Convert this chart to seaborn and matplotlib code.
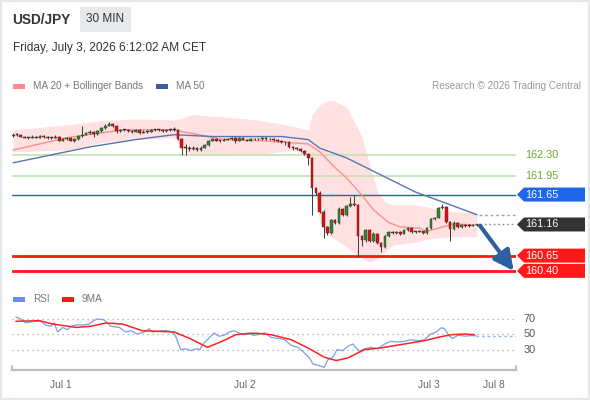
import matplotlib
matplotlib.use("Agg")
import matplotlib.pyplot as plt
from matplotlib.patches import Polygon, Rectangle
import numpy as np
import pandas as pd
import seaborn as sns

# ---------------- data ----------------
# 30 min candles, Jun 30 17:30 -> Jul 3 06:00
first_open = 162.61
closes = [162.63, 162.63, 162.60, 162.58, 162.58, 162.60, 162.58, 162.61, 162.60, 162.58,
          162.58, 162.60, 162.53, 162.56, 162.58, 162.53, 162.56, 162.61, 162.63, 162.66,
          162.68, 162.64, 162.69, 162.74, 162.78, 162.81, 162.78, 162.69, 162.71, 162.71,
          162.69, 162.68, 162.71, 162.66, 162.68, 162.68, 162.71, 162.71, 162.71, 162.69,
          162.71, 162.71, 162.71, 162.56, 162.42, 162.42, 162.40, 162.42, 162.38, 162.42,
          162.46, 162.53, 162.56, 162.53, 162.53, 162.55, 162.56, 162.58, 162.53, 162.58,
          162.55, 162.53, 162.56, 162.56, 162.56, 162.58, 162.56, 162.56, 162.55, 162.53,
          162.51, 162.51, 162.43, 162.42, 162.40, 162.37, 162.32, 162.25, 161.76, 161.68,
          161.37, 161.12, 161.02, 161.23, 161.19, 161.42, 161.32, 161.46, 161.50, 161.48,
          160.97, 160.91, 161.07, 160.89, 161.01, 160.86, 160.79, 160.97, 161.04, 161.02,
          161.04, 161.01, 161.07, 161.10, 161.04, 161.04, 161.05, 161.02, 161.10, 161.25,
          161.27, 161.43, 161.45, 161.20, 161.09, 161.19, 161.12, 161.15, 161.14, 161.14,
          161.15, 161.16]
highs = [162.65, 162.65, 162.64, 162.61, 162.60, 162.62, 162.61, 162.63, 162.62, 162.61,
         162.60, 162.62, 162.61, 162.58, 162.60, 162.59, 162.58, 162.63, 162.78, 162.68,
         162.70, 162.69, 162.71, 162.76, 162.80, 162.83, 162.82, 162.79, 162.73, 162.73,
         162.72, 162.71, 162.73, 162.72, 162.70, 162.70, 162.73, 162.73, 162.73, 162.72,
         162.73, 162.73, 162.76, 162.72, 162.57, 162.47, 162.45, 162.45, 162.43, 162.44,
         162.48, 162.55, 162.58, 162.57, 162.55, 162.57, 162.58, 162.60, 162.59, 162.60,
         162.59, 162.56, 162.58, 162.58, 162.58, 162.60, 162.59, 162.58, 162.57, 162.56,
         162.54, 162.53, 162.52, 162.44, 162.43, 162.41, 162.38, 162.33, 162.26, 161.78,
         161.70, 161.40, 161.14, 161.25, 161.25, 161.44, 161.43, 161.48, 161.61, 161.64,
         161.50, 160.99, 161.09, 161.08, 161.03, 161.02, 160.88, 160.99, 161.06, 161.06,
         161.06, 161.05, 161.09, 161.12, 161.11, 161.06, 161.07, 161.06, 161.12, 161.27,
         161.29, 161.45, 161.50, 161.46, 161.21, 161.21, 161.20, 161.17, 161.16, 161.16,
         161.17, 161.17]
lows = [162.60, 162.61, 162.59, 162.57, 162.56, 162.57, 162.57, 162.57, 162.58, 162.56,
        162.56, 162.57, 162.52, 162.52, 162.55, 162.52, 162.51, 162.55, 162.60, 162.62,
        162.64, 162.60, 162.63, 162.68, 162.73, 162.77, 162.76, 162.66, 162.68, 162.69,
        162.67, 162.65, 162.67, 162.64, 162.65, 162.66, 162.67, 162.69, 162.69, 162.67,
        162.68, 162.69, 162.69, 162.54, 162.30, 162.30, 162.37, 162.38, 162.36, 162.37,
        162.41, 162.45, 162.52, 162.52, 162.51, 162.52, 162.54, 162.55, 162.50, 162.52,
        162.54, 162.52, 162.52, 162.54, 162.54, 162.55, 162.55, 162.54, 162.53, 162.51,
        162.49, 162.46, 162.41, 162.38, 162.38, 162.35, 162.30, 162.14, 161.31, 161.65,
        161.34, 160.94, 160.98, 161.00, 161.16, 161.17, 161.30, 161.30, 161.44, 161.46,
        160.63, 160.81, 160.88, 160.87, 160.87, 160.84, 160.71, 160.78, 160.96, 161.00,
        161.01, 160.99, 161.00, 161.06, 161.02, 161.02, 161.03, 161.00, 161.01, 161.09,
        161.23, 161.26, 161.41, 161.18, 160.89, 161.07, 161.10, 161.11, 161.12, 161.12,
        161.13, 161.14]

ma50_x = [0, 20, 32, 42, 52, 70, 77, 80, 87, 96, 105, 112, 121]
ma50 = [162.17, 162.43, 162.55, 162.63, 162.60, 162.60, 162.55, 162.41, 162.25, 161.97,
        161.69, 161.53, 161.32]

ma20_x = [0, 14, 23, 29, 36, 42, 44, 55, 65, 72, 77, 80, 84, 87, 91, 94, 98, 101, 106,
          108, 111, 115, 121]
ma20 = [162.38, 162.58, 162.66, 162.71, 162.71, 162.71, 162.68, 162.55, 162.53, 162.50,
        162.48, 162.35, 162.09, 161.92, 161.64, 161.40, 161.19, 161.12, 161.10, 161.05,
        161.10, 161.17, 161.15]

bb_x = [0, 14, 23, 32, 42, 44, 47, 55, 64, 72, 77, 78, 80, 82, 84, 87, 91, 93, 95, 97,
        99, 105, 108, 111, 115, 121]
bb_upper = [162.71, 162.79, 162.86, 162.89, 162.87, 162.90, 162.96, 162.92, 162.87, 162.78,
            162.71, 162.96, 163.12, 163.19, 163.18, 163.08, 162.60, 162.15, 161.70, 161.53,
            161.48, 161.48, 161.45, 161.40, 161.37, 161.35]
bb_lower = [162.35, 162.38, 162.50, 162.55, 162.58, 162.40, 162.29, 162.30, 162.31, 162.37,
            162.35, 161.95, 161.20, 161.00, 160.92, 160.79, 160.60, 160.55, 160.60, 160.71,
            160.82, 160.87, 160.92, 160.94, 160.96, 160.96]

rsi_x = [0.7, 1.6, 3.3, 5.9, 7.2, 8.5, 9.8, 10.7, 11.6, 12.9, 14.2, 15.1, 16.8, 18.1, 19.8,
         21.1, 22.0, 23.7, 25.5, 27.7, 29.4, 30.7, 32.4, 34.2, 35.5, 36.3, 38.1, 39.8, 41.6,
         42.4, 43.7, 45.1, 46.4, 47.7, 48.7, 49.8, 51.1, 52.4, 53.7, 55.0, 56.4, 57.7, 59.0,
         60.3, 61.6, 62.9, 63.8, 65.6, 67.3, 69.9, 70.8, 72.5, 74.3, 76.0, 77.3, 78.2, 79.5,
         81.2, 82.1, 83.4, 84.5, 86.0, 87.3, 88.6, 90.3, 91.7, 93.4, 95.1, 96.9, 98.6, 100.4,
         102.1, 103.8, 105.6, 107.3, 109.0, 110.4, 111.7, 112.5, 113.8, 114.7, 116.0, 117.9,
         119.5, 120.8]
rsi = [72.5, 71, 65, 67, 67.5, 62, 60.5, 65, 53, 59, 56, 60.5, 62.5, 62, 63.5, 68, 70, 69,
       60.5, 59, 53, 54.7, 50.4, 53, 57.3, 53, 54, 55, 53, 47.4, 30, 31, 28.6, 31, 30, 38.6,
       45, 51.7, 47.4, 48.7, 53, 54.7, 51.7, 49.5, 50.4, 48.7, 49.5, 52, 46, 44, 43, 35.6,
       33, 25.6, 19, 11.2, 9.5, 6.8, 16.8, 20, 30, 28.6, 34.3, 37.3, 27.8, 31, 33, 31, 37.3,
       40.8, 40, 40.8, 43, 41.6, 43, 50.4, 53, 58.5, 57.6, 47.6, 44.4, 48.7, 47.6, 48.3, 48]

rsi_ma_x = [0.7, 6.8, 10.3, 16.4, 20.3, 24.2, 28.5, 33.7, 37.2, 42.0, 45.9, 50.7, 54.6,
            58.1, 61.6, 63.7, 67.3, 72.5, 76.9, 81.2, 84.3, 87.3, 91.7, 96.0, 101.2, 107.3,
            110.8, 114.3, 117.8, 120.3]
rsi_ma = [67, 67.8, 63.5, 59, 60.5, 64.8, 63.5, 54.7, 54, 53, 45, 33, 41, 49.5, 51.3, 51.3,
          49.5, 43, 32.2, 20, 15.7, 19, 30, 32.2, 36.6, 41.6, 46, 49.5, 50.4, 49.5]

resistance = [162.30, 161.95]
pivot = 161.65
last_price = 161.16
support = [160.65, 160.40]
rsi_levels = [70, 50, 30]

tick_pos = [12.5, 60.5, 108.5, 125.5]
tick_labels = ["Jul 1", "Jul 2", "Jul 3", "Jul 8"]

# ---------------- figure ----------------
sns.set_theme(style="white")
plt.rcParams['font.family'] = ['Liberation Sans', 'DejaVu Sans']

W, H = 590, 400
fig = plt.figure(figsize=(W / 100, H / 100), dpi=100, facecolor='white')


def fx(px):
    return px / W


def fy(py):
    return 1 - py / H


X0, X1 = 12, 516
XMAX = 131.2
ax = fig.add_axes([fx(X0), fy(282), fx(X1) - fx(X0), fy(95) - fy(282)])
ax_r = fig.add_axes([fx(X0), fy(370), fx(X1) - fx(X0), fy(296) - fy(370)])

for a in (ax, ax_r):
    a.set_facecolor('none')
    a.set_xlim(-0.3, XMAX)
    for s in a.spines.values():
        s.set_visible(False)
    a.set_yticks([])
ax.set_xticks([])
ax.set_ylim(160.218, 163.28)
ax_r.set_ylim(3.3, 100.1)

# Bollinger band + moving averages
ax.fill_between(bb_x, bb_lower, bb_upper, color='#ffe1e1', lw=0, zorder=1)
sns.lineplot(x=ma20_x, y=ma20, ax=ax, color='#ff8f8f', lw=1, zorder=2)
sns.lineplot(x=ma50_x, y=ma50, ax=ax, color='#5676b2', lw=1, zorder=2)

# level lines
for lv in resistance:
    ax.axhline(lv, color='#c4e2ae', lw=1.2, zorder=1.5)
ax.axhline(pivot, color='#1f5fd8', lw=1, zorder=1.5)
for lv in support:
    ax.axhline(lv, color='#ff1616', lw=2, zorder=1.5)

# candles
opens = [first_open] + closes[:-1]
df = pd.DataFrame({'o': opens, 'h': highs, 'l': lows, 'c': closes})
df['i'] = np.arange(len(df))
ax.vlines(df['i'], df['l'], df['h'], color='#3a3a3a', lw=0.7, zorder=3)
body_bottom = df[['o', 'c']].min(axis=1)
body_h = (df['c'] - df['o']).abs().clip(lower=0.006)
colors = np.where(df['c'] > df['o'], '#2f8a2f', np.where(df['c'] < df['o'], '#e30e0e', '#3a3a3a'))
ax.bar(df['i'], body_h, bottom=body_bottom, width=0.72, color=colors,
       edgecolor='#2a2a2a', lw=0.3, zorder=4)

n = len(closes)
# dotted extensions
ax.plot([n - 0.3, XMAX], [last_price, last_price], ls=(0, (1.2, 2)), color='#8c8c8c', lw=1, zorder=2)
ax.plot([ma50_x[-1] + 0.5, XMAX], [ma50[-1], ma50[-1]], ls=(0, (2, 2)), color='#8fa8dc', lw=1, zorder=2)

# forecast arrow
ax.annotate('', xy=(XMAX - 0.6, support[1]), xytext=(n - 0.2, last_price - 0.02),
            arrowprops=dict(arrowstyle='-|>,head_width=0.5,head_length=1.0',
                            color='#2e5f9f', lw=3, shrinkA=0, shrinkB=0),
            annotation_clip=False, zorder=6)


def fig_y(a, val):
    disp = a.transData.transform((0, val))
    return fig.transFigure.inverted().transform(disp)[1]


def tag(val, face, text):
    y = fig_y(ax, val)
    h = 7 / H
    pts = [(fx(517), y), (fx(524), y + h), (fx(585), y + h), (fx(585), y - h), (fx(524), y - h)]
    fig.add_artist(Polygon(pts, closed=True, transform=fig.transFigure,
                           facecolor=face, edgecolor='none'))
    fig.text(fx(525), y, text, color='white', fontsize=7.8, ha='left', va='center')


for lv in resistance:
    fig.text(fx(525), fig_y(ax, lv), f"{lv:.2f}", color='#6aaa2c', fontsize=7.8,
             ha='left', va='center')
tag(pivot, '#1e66ea', f"{pivot:.2f}")
tag(last_price, '#333333', f"{last_price:.2f}")
tag(support[0], '#ff1a1a', f"{support[0]:.2f}")
tag(support[1], '#ff1a1a', f"{support[1]:.2f}")

# ---------------- RSI panel ----------------
for lv in rsi_levels:
    ax_r.axhline(lv, ls=(0, (1, 3)), color='#a8a8a8', lw=0.9, zorder=1)
    fig.text(fx(524), fig_y(ax_r, lv), str(lv), color='#555555', fontsize=7.8,
             ha='left', va='center')
sns.lineplot(x=rsi_x, y=rsi, ax=ax_r, color='#7e9de8', lw=0.9, zorder=3)
sns.lineplot(x=rsi_ma_x, y=rsi_ma, ax=ax_r, color='#ff2222', lw=1.1, zorder=4)
ax_r.plot([rsi_x[-1], XMAX], [rsi[-1], rsi[-1]], ls=(0, (2, 2)), color='#9fb4ea', lw=1, zorder=2)

ax_r.spines['bottom'].set_visible(True)
ax_r.spines['bottom'].set_color('#bdbdbd')
ax_r.spines['bottom'].set_linewidth(1.6)
ax_r.set_xticks(tick_pos, tick_labels)
ax_r.tick_params(axis='x', length=0, pad=7, labelsize=7.4, labelcolor='#666666')
for xe in (0, 1):
    ax_r.plot([xe, xe], [0, 0.06], transform=ax_r.transAxes, color='#bdbdbd', lw=1.4,
              clip_on=False)

# ---------------- header / legends ----------------
fig.text(fx(12), fy(19.5), "USD/JPY", fontsize=9.8, fontweight='bold', color='#333333',
         ha='left', va='center')
fig.add_artist(Rectangle((fx(80), fy(32)), fx(131) - fx(80), fy(7) - fy(32),
                         transform=fig.transFigure, facecolor='#e8e9eb', edgecolor='none'))
fig.text(fx(105.5), fy(19.5), "30 MIN", fontsize=8.5, color='#333333', ha='center', va='center')
fig.text(fx(13), fy(48), "Friday, July 3, 2026 6:12:02 AM CET", fontsize=8.6, color='#333333',
         ha='left', va='center')


def legend_item(x, y, color, label):
    fig.add_artist(Rectangle((fx(x), fy(y + 2.5)), fx(12), 5 / H, transform=fig.transFigure,
                             facecolor=color, edgecolor='none'))
    fig.text(fx(x + 20), fy(y), label, fontsize=7.2, color='#777777', ha='left', va='center')


legend_item(13, 86, '#ff8a8a', "MA 20 + Bollinger Bands")
legend_item(156, 86, '#3d5f9e', "MA 50")
fig.text(fx(581), fy(86), "Research \u00a9 2026 Trading Central", fontsize=7.2, color='#999999',
         ha='right', va='center')
legend_item(13, 299, '#6b8de3', "RSI")
fig.add_artist(Rectangle((fx(62), fy(301.5)), fx(12), 5 / H, transform=fig.transFigure,
                         facecolor='#ff1a1a', edgecolor='none'))
fig.text(fx(81), fy(299), "9MA", fontsize=7.2, color='#777777', ha='left', va='center')

# frame
fig.add_artist(Rectangle((0, 0), 1, 1, transform=fig.transFigure, fill=False,
                         edgecolor='#e4e7eb', lw=3))

fig.savefig('out.png', dpi=100, facecolor='white')
